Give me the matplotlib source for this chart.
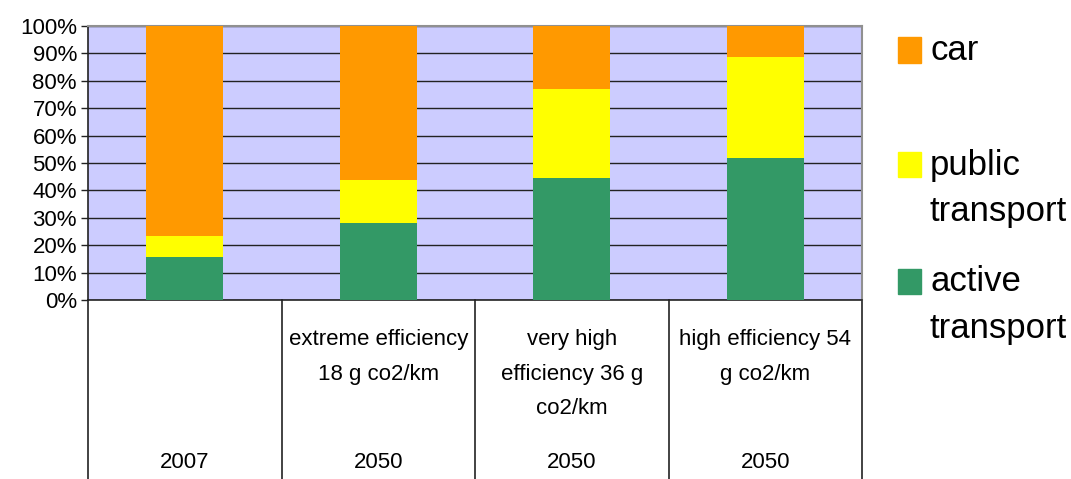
import matplotlib
matplotlib.use('Agg')
import matplotlib.pyplot as plt
from matplotlib.patches import Rectangle
import numpy as np

plt.rcParams['font.family'] = ['Liberation Sans', 'DejaVu Sans']

years = ['2007', '2050', '2050', '2050']
scenarios = ['', 'extreme efficiency\n18 g co2/km', 'very high\nefficiency 36 g\nco2/km',
             'high efficiency 54\ng co2/km']
series = ['active\ntransport', 'public\ntransport', 'car']
active = [15.7, 28.1, 44.5, 51.8]
public = [7.7, 15.7, 32.5, 36.9]
car = [76.6, 56.2, 23.0, 11.3]
colors = ['#339966', '#FFFF00', '#FF9900']

W, H = 1071, 479
fig = plt.figure(figsize=(W / 100, H / 100), dpi=100)
ax = fig.add_axes([88 / W, (H - 300) / H, 774 / W, 274 / H])
ax.set_facecolor('#CCCCFF')

x = np.arange(len(years))
bottom = np.zeros(len(years))
for vals, c in zip([active, public, car], colors):
    ax.bar(x, vals, 0.40, bottom=bottom, color=c, zorder=3)
    bottom += np.array(vals)

ax.set_xlim(-0.5, len(years) - 0.5)
ax.set_ylim(0, 100)
ax.set_yticks(range(0, 101, 10))
ax.set_yticklabels([f'{v}%' for v in range(0, 101, 10)], fontsize=16)
ax.yaxis.grid(True, color='#222222', linewidth=1.0, zorder=1)
ax.set_axisbelow(True)
ax.tick_params(axis='y', length=5, width=1, color='#222222', pad=3)
ax.set_xticks([])
for s in ['top', 'right']:
    ax.spines[s].set_color('#909090')
    ax.spines[s].set_linewidth(1.5)
for s in ['left', 'bottom']:
    ax.spines[s].set_color('#222222')
    ax.spines[s].set_linewidth(1.2)

# category table under the axis
depth = -(H - 300) / 274
for b in np.arange(len(years) + 1) - 0.5:
    ax.plot([b, b], [0, depth], transform=ax.get_xaxis_transform(),
            color='#222222', lw=1.2, clip_on=False)
for i in x:
    ax.text(i, -29 / 274, scenarios[i], transform=ax.get_xaxis_transform(),
            ha='center', va='top', fontsize=16, linespacing=1.85)
    ax.text(i, -(463 - 300) / 274, years[i], transform=ax.get_xaxis_transform(),
            ha='center', va='center', fontsize=16)

# legend drawn by hand: centres of squares (px from top) for active, public, car
leg_y = [281, 164.5, 50]
for name, c, yc in zip(series, colors, leg_y):
    fig.patches.append(Rectangle((898 / W, (H - yc - 12.5) / H), 23 / W, 25 / H,
                                 transform=fig.transFigure, color=c))
    fig.text(930 / W, (H - yc + 16) / H, name, ha='left', va='top',
             fontsize=25, linespacing=1.52)

fig.savefig('out.png', dpi=100)
